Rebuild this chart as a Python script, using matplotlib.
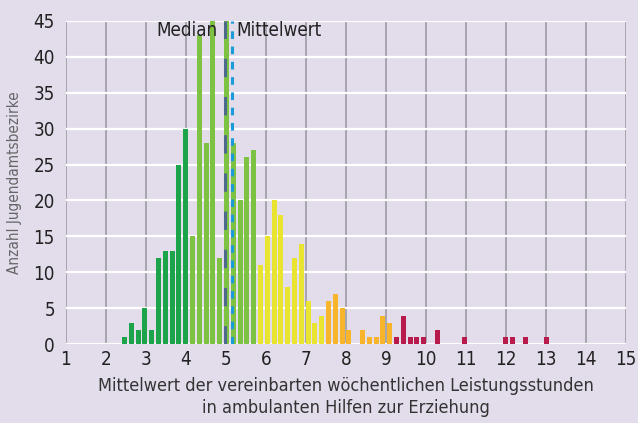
import numpy as np
import matplotlib
matplotlib.use("Agg")
import matplotlib.pyplot as plt

# ---- data ----
counts = [1, 3, 2, 5, 2, 12, 13, 13, 25, 30,
          15, 43, 28, 45, 12, 45, 28, 20, 26, 27,
          11, 15, 20, 18, 8, 12, 14, 6, 3, 4,
          6, 7, 5, 2, 0, 2, 1, 1, 4, 3,
          1, 4, 1, 1, 1, 0, 2, 0, 0, 0,
          1, 0, 0, 0, 0, 0, 1, 1, 0, 1,
          0, 0, 1]
bin_start = 2.46
bin_step = 0.17
class_limits = [4.1, 5.8, 7.5, 9.2]          # colour class boundaries (hours)
class_colors = ["#1CA44A", "#7DC243", "#E8E42F", "#F8B42B", "#B81A4B"]
median_value = 4.98
mean_value = 5.16
x_ticks = list(range(1, 16))
y_ticks = list(range(0, 46, 5))

plt.rcParams["font.family"] = ["DejaVu Sans"]
plt.rcParams["font.stretch"] = "condensed"

bg = "#E3DCEB"
fig = plt.figure(figsize=(6.38, 4.23), dpi=100, facecolor=bg)
ax = fig.add_axes([66/638, (423-344.3)/423, 560/638, (344.3-20.7)/423])
ax.set_facecolor(bg)

x = bin_start + bin_step * np.arange(len(counts))
cls = np.searchsorted(class_limits, x)
colors = [class_colors[c] for c in cls]
ax.bar(x, counts, width=0.125, color=colors, zorder=3)

ax.set_xlim(1, 15)
ax.set_ylim(0, 45)
ax.set_xticks(x_ticks)
ax.set_yticks(y_ticks)
ax.tick_params(length=0, labelsize=13.5, colors="#222222")
ax.tick_params(axis="y", pad=8)
ax.tick_params(axis="x", pad=4)

for v in x_ticks:
    ax.axvline(v, color="#A8A4AE", lw=1.4, zorder=1)
for v in y_ticks:
    ax.axhline(v, color="white", lw=1.6, zorder=2)
for s in ax.spines.values():
    s.set_visible(False)

ax.axvline(median_value, color="#4D6A8C", lw=2.2, ls=(0, (6, 6.5)), zorder=4)
ax.axvline(mean_value, color="#1B9BD7", lw=2.2, ls=(0, (2.5, 2.5)), zorder=4)

ax.text(4.8, 43.6, "Median", ha="right", va="center", fontsize=13.5, color="#222222", zorder=5)
ax.text(5.27, 43.6, "Mittelwert", ha="left", va="center", fontsize=13.5, color="#222222", zorder=5)

ax.set_xlabel("Mittelwert der vereinbarten wöchentlichen Leistungsstunden\n"
              "in ambulanten Hilfen zur Erziehung",
              fontsize=13, color="#333333", labelpad=6, linespacing=1.25)
ax.set_ylabel("Anzahl Jugendamtsbezirke", fontsize=11, color="#666666", labelpad=8)

fig.savefig("out.png", dpi=100, facecolor=bg)
